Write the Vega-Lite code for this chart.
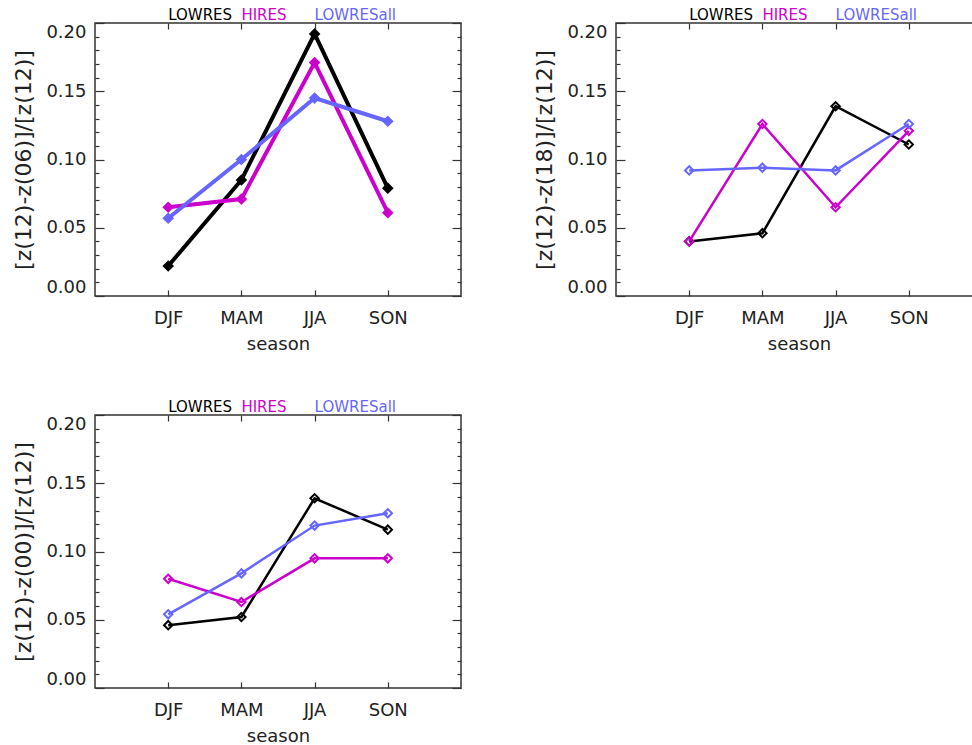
{
  "$schema": "https://vega.github.io/schema/vega-lite/v6.json",
  "padding": {"left": 12, "top": 7, "right": 5, "bottom": 5},
  "background": "white",
  "datasets": {
    "vals": [
      {"panel": "06", "series": "LOWRES", "season": "DJF", "value": 0.022},
      {"panel": "06", "series": "LOWRES", "season": "MAM", "value": 0.085},
      {"panel": "06", "series": "LOWRES", "season": "JJA", "value": 0.192},
      {"panel": "06", "series": "LOWRES", "season": "SON", "value": 0.079},
      {"panel": "06", "series": "HIRES", "season": "DJF", "value": 0.065},
      {"panel": "06", "series": "HIRES", "season": "MAM", "value": 0.071},
      {"panel": "06", "series": "HIRES", "season": "JJA", "value": 0.171},
      {"panel": "06", "series": "HIRES", "season": "SON", "value": 0.061},
      {"panel": "06", "series": "LOWRESall", "season": "DJF", "value": 0.057},
      {"panel": "06", "series": "LOWRESall", "season": "MAM", "value": 0.100},
      {"panel": "06", "series": "LOWRESall", "season": "JJA", "value": 0.145},
      {"panel": "06", "series": "LOWRESall", "season": "SON", "value": 0.128},
      {"panel": "18", "series": "LOWRES", "season": "DJF", "value": 0.040},
      {"panel": "18", "series": "LOWRES", "season": "MAM", "value": 0.046},
      {"panel": "18", "series": "LOWRES", "season": "JJA", "value": 0.139},
      {"panel": "18", "series": "LOWRES", "season": "SON", "value": 0.111},
      {"panel": "18", "series": "HIRES", "season": "DJF", "value": 0.040},
      {"panel": "18", "series": "HIRES", "season": "MAM", "value": 0.126},
      {"panel": "18", "series": "HIRES", "season": "JJA", "value": 0.065},
      {"panel": "18", "series": "HIRES", "season": "SON", "value": 0.121},
      {"panel": "18", "series": "LOWRESall", "season": "DJF", "value": 0.092},
      {"panel": "18", "series": "LOWRESall", "season": "MAM", "value": 0.094},
      {"panel": "18", "series": "LOWRESall", "season": "JJA", "value": 0.092},
      {"panel": "18", "series": "LOWRESall", "season": "SON", "value": 0.126},
      {"panel": "00", "series": "LOWRES", "season": "DJF", "value": 0.046},
      {"panel": "00", "series": "LOWRES", "season": "MAM", "value": 0.052},
      {"panel": "00", "series": "LOWRES", "season": "JJA", "value": 0.139},
      {"panel": "00", "series": "LOWRES", "season": "SON", "value": 0.116},
      {"panel": "00", "series": "HIRES", "season": "DJF", "value": 0.080},
      {"panel": "00", "series": "HIRES", "season": "MAM", "value": 0.063},
      {"panel": "00", "series": "HIRES", "season": "JJA", "value": 0.095},
      {"panel": "00", "series": "HIRES", "season": "SON", "value": 0.095},
      {"panel": "00", "series": "LOWRESall", "season": "DJF", "value": 0.054},
      {"panel": "00", "series": "LOWRESall", "season": "MAM", "value": 0.084},
      {"panel": "00", "series": "LOWRESall", "season": "JJA", "value": 0.119},
      {"panel": "00", "series": "LOWRESall", "season": "SON", "value": 0.128}
    ],
    "leg": [
      {"series": "LOWRES", "season": "DJF"},
      {"series": "HIRES", "season": "MAM"},
      {"series": "LOWRESall", "season": "JJA"}
    ]
  },
  "columns": 2,
  "spacing": {"row": 45, "column": 70},
  "concat": [
    {
      "width": 366, "height": 273,
      "resolve": {"axis": {"x": "independent", "y": "independent"}},
      "layer": [
        {
          "data": {"name": "vals"},
          "transform": [{"filter": "datum.panel == '06'"}],
          "mark": {"type": "line", "strokeWidth": 4},
          "encoding": {
            "x": {"field": "season", "type": "ordinal", "scale": {"type": "point", "domain": ["DJF", "MAM", "JJA", "SON"], "padding": 1},
                  "axis": {"orient": "bottom", "title": "season", "tickSize": -6, "labelPadding": 19, "titlePadding": 8, "labelAngle": 0}},
            "y": {"field": "value", "type": "quantitative", "scale": {"domain": [0, 0.2], "nice": false},
                  "axis": {"orient": "left", "title": "[z(12)-z(06)]/[z(12)]",
                           "values": [0, 0.01, 0.02, 0.03, 0.04, 0.05, 0.06, 0.07, 0.08, 0.09, 0.1, 0.11, 0.12, 0.13, 0.14, 0.15, 0.16, 0.17, 0.18, 0.19, 0.2],
                           "labelExpr": "abs(datum.value*20 - round(datum.value*20)) < 0.0001 ? format(datum.value, '.2f') : ''",
                           "tickSize": {"condition": {"test": "abs(datum.value*20 - round(datum.value*20)) < 0.0001", "value": -9}, "value": -4},
                           "labelPadding": 18, "labelFlush": true, "labelOverlap": false, "titlePadding": 10}},
            "color": {"field": "series", "type": "nominal", "scale": {"domain": ["LOWRES", "HIRES", "LOWRESall"], "range": ["#000000", "#CC00CC", "#6666FF"]}, "legend": null}
          }
        },
        {
          "data": {"name": "vals"},
          "transform": [{"filter": "datum.panel == '06'"}],
          "mark": {"type": "point", "shape": "diamond", "filled": true, "size": 135, "opacity": 1},
          "encoding": {
            "x": {"field": "season", "type": "ordinal", "axis": {"orient": "top", "labels": false, "title": null, "tickSize": -6}},
            "y": {"field": "value", "type": "quantitative",
                  "axis": {"orient": "right", "labels": false, "title": null,
                           "values": [0, 0.01, 0.02, 0.03, 0.04, 0.05, 0.06, 0.07, 0.08, 0.09, 0.1, 0.11, 0.12, 0.13, 0.14, 0.15, 0.16, 0.17, 0.18, 0.19, 0.2],
                           "tickSize": {"condition": {"test": "abs(datum.value*20 - round(datum.value*20)) < 0.0001", "value": -9}, "value": -4}}},
            "color": {"field": "series", "type": "nominal", "legend": null}
          }
        },
        {
          "data": {"name": "leg"},
          "mark": {"type": "text", "align": "left", "baseline": "alphabetic", "dy": -3, "fontSize": 15, "font": "DejaVu Sans"},
          "encoding": {
            "x": {"field": "season", "type": "ordinal", "axis": null},
            "y": {"datum": 0.2, "type": "quantitative", "axis": null},
            "text": {"field": "series"},
            "color": {"field": "series", "type": "nominal", "legend": null}
          }
        }
      ]
    },
    {
      "width": 366, "height": 273,
      "resolve": {"axis": {"x": "independent", "y": "independent"}},
      "layer": [
        {
          "data": {"name": "vals"},
          "transform": [{"filter": "datum.panel == '18'"}],
          "mark": {"type": "line", "strokeWidth": 2.5},
          "encoding": {
            "x": {"field": "season", "type": "ordinal", "scale": {"type": "point", "domain": ["DJF", "MAM", "JJA", "SON"], "padding": 1},
                  "axis": {"orient": "bottom", "title": "season", "tickSize": -6, "labelPadding": 19, "titlePadding": 8, "labelAngle": 0}},
            "y": {"field": "value", "type": "quantitative", "scale": {"domain": [0, 0.2], "nice": false},
                  "axis": {"orient": "left", "title": "[z(12)-z(18)]/[z(12)]",
                           "values": [0, 0.01, 0.02, 0.03, 0.04, 0.05, 0.06, 0.07, 0.08, 0.09, 0.1, 0.11, 0.12, 0.13, 0.14, 0.15, 0.16, 0.17, 0.18, 0.19, 0.2],
                           "labelExpr": "abs(datum.value*20 - round(datum.value*20)) < 0.0001 ? format(datum.value, '.2f') : ''",
                           "tickSize": {"condition": {"test": "abs(datum.value*20 - round(datum.value*20)) < 0.0001", "value": -9}, "value": -4},
                           "labelPadding": 18, "labelFlush": true, "labelOverlap": false, "titlePadding": 10}},
            "color": {"field": "series", "type": "nominal", "scale": {"domain": ["LOWRES", "HIRES", "LOWRESall"], "range": ["#000000", "#CC00CC", "#6666FF"]}, "legend": null}
          }
        },
        {
          "data": {"name": "vals"},
          "transform": [{"filter": "datum.panel == '18'"}],
          "mark": {"type": "point", "shape": "diamond", "filled": false, "size": 70, "strokeWidth": 2, "opacity": 1},
          "encoding": {
            "x": {"field": "season", "type": "ordinal", "axis": {"orient": "top", "labels": false, "title": null, "tickSize": -6}},
            "y": {"field": "value", "type": "quantitative",
                  "axis": {"orient": "right", "labels": false, "title": null,
                           "values": [0, 0.01, 0.02, 0.03, 0.04, 0.05, 0.06, 0.07, 0.08, 0.09, 0.1, 0.11, 0.12, 0.13, 0.14, 0.15, 0.16, 0.17, 0.18, 0.19, 0.2],
                           "tickSize": {"condition": {"test": "abs(datum.value*20 - round(datum.value*20)) < 0.0001", "value": -9}, "value": -4}}},
            "color": {"field": "series", "type": "nominal", "legend": null}
          }
        },
        {
          "data": {"name": "leg"},
          "mark": {"type": "text", "align": "left", "baseline": "alphabetic", "dy": -3, "fontSize": 15, "font": "DejaVu Sans"},
          "encoding": {
            "x": {"field": "season", "type": "ordinal", "axis": null},
            "y": {"datum": 0.2, "type": "quantitative", "axis": null},
            "text": {"field": "series"},
            "color": {"field": "series", "type": "nominal", "legend": null}
          }
        }
      ]
    },
    {
      "width": 366, "height": 273,
      "resolve": {"axis": {"x": "independent", "y": "independent"}},
      "layer": [
        {
          "data": {"name": "vals"},
          "transform": [{"filter": "datum.panel == '00'"}],
          "mark": {"type": "line", "strokeWidth": 2.5},
          "encoding": {
            "x": {"field": "season", "type": "ordinal", "scale": {"type": "point", "domain": ["DJF", "MAM", "JJA", "SON"], "padding": 1},
                  "axis": {"orient": "bottom", "title": "season", "tickSize": -6, "labelPadding": 19, "titlePadding": 8, "labelAngle": 0}},
            "y": {"field": "value", "type": "quantitative", "scale": {"domain": [0, 0.2], "nice": false},
                  "axis": {"orient": "left", "title": "[z(12)-z(00)]/[z(12)]",
                           "values": [0, 0.01, 0.02, 0.03, 0.04, 0.05, 0.06, 0.07, 0.08, 0.09, 0.1, 0.11, 0.12, 0.13, 0.14, 0.15, 0.16, 0.17, 0.18, 0.19, 0.2],
                           "labelExpr": "abs(datum.value*20 - round(datum.value*20)) < 0.0001 ? format(datum.value, '.2f') : ''",
                           "tickSize": {"condition": {"test": "abs(datum.value*20 - round(datum.value*20)) < 0.0001", "value": -9}, "value": -4},
                           "labelPadding": 18, "labelFlush": true, "labelOverlap": false, "titlePadding": 10}},
            "color": {"field": "series", "type": "nominal", "scale": {"domain": ["LOWRES", "HIRES", "LOWRESall"], "range": ["#000000", "#CC00CC", "#6666FF"]}, "legend": null}
          }
        },
        {
          "data": {"name": "vals"},
          "transform": [{"filter": "datum.panel == '00'"}],
          "mark": {"type": "point", "shape": "diamond", "filled": false, "size": 70, "strokeWidth": 2, "opacity": 1},
          "encoding": {
            "x": {"field": "season", "type": "ordinal", "axis": {"orient": "top", "labels": false, "title": null, "tickSize": -6}},
            "y": {"field": "value", "type": "quantitative",
                  "axis": {"orient": "right", "labels": false, "title": null,
                           "values": [0, 0.01, 0.02, 0.03, 0.04, 0.05, 0.06, 0.07, 0.08, 0.09, 0.1, 0.11, 0.12, 0.13, 0.14, 0.15, 0.16, 0.17, 0.18, 0.19, 0.2],
                           "tickSize": {"condition": {"test": "abs(datum.value*20 - round(datum.value*20)) < 0.0001", "value": -9}, "value": -4}}},
            "color": {"field": "series", "type": "nominal", "legend": null}
          }
        },
        {
          "data": {"name": "leg"},
          "mark": {"type": "text", "align": "left", "baseline": "alphabetic", "dy": -3, "fontSize": 15, "font": "DejaVu Sans"},
          "encoding": {
            "x": {"field": "season", "type": "ordinal", "axis": null},
            "y": {"datum": 0.2, "type": "quantitative", "axis": null},
            "text": {"field": "series"},
            "color": {"field": "series", "type": "nominal", "legend": null}
          }
        }
      ]
    }
  ],
  "config": {
    "view": {"stroke": "#333333", "strokeWidth": 1.5},
    "axis": {
      "grid": false, "domain": false,
      "labelFont": "DejaVu Sans", "labelFontSize": 18, "labelColor": "#222222",
      "titleFont": "DejaVu Sans", "titleFontSize": 18, "titleFontWeight": "normal", "titleColor": "#222222",
      "tickColor": "#333333", "tickWidth": 1.2
    },
    "axisLeft": {"titleFontSize": 22}
  }
}
